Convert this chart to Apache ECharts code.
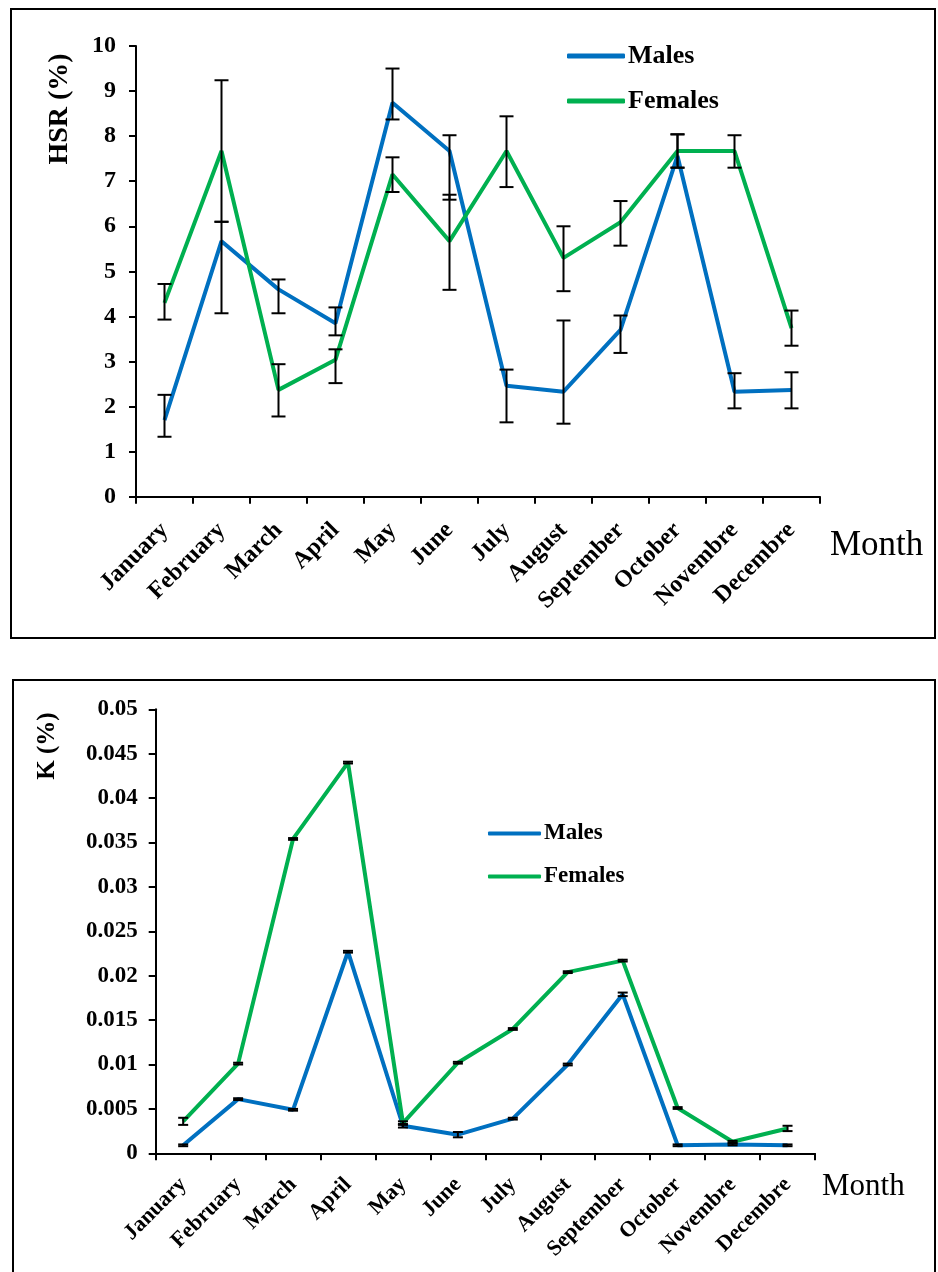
<!DOCTYPE html>
<html>
<head>
<meta charset="utf-8">
<title>HSR and K by month</title>
<script src="https://cdn.jsdelivr.net/npm/echarts/dist/echarts.min.js"></script>
<style>
  html, body { margin: 0; padding: 0; background: #ffffff; }
  #chart { width: 938px; height: 1272px; }
</style>
</head>
<body>
<div id="chart"></div>
<script>
// Months on the x axis of both panels
const months = ['January', 'February', 'March', 'April', 'May', 'June', 'July',
  'August', 'September', 'October', 'Novembre', 'Decembre'];

// HSR (%) — monthly means with lower / upper error-bar ends
const hsrMales       = [1.70, 5.67, 4.60, 3.85, 8.74, 7.67, 2.46, 2.33, 3.70, 7.56, 2.33, 2.37];
const hsrMalesLow    = [1.33, 4.07, 4.07, 3.58, 8.37, 6.59, 1.65, 1.62, 3.19, 7.30, 1.96, 1.96];
const hsrMalesHigh   = [2.26, 6.10, 4.82, 4.20, 9.50, 8.02, 2.82, 3.91, 4.02, 8.04, 2.74, 2.76];
const hsrFemales     = [4.30, 7.67, 2.37, 3.04, 7.15, 5.67, 7.67, 5.30, 6.09, 7.67, 7.67, 3.74];
const hsrFemalesLow  = [3.93, 6.10, 1.78, 2.52, 6.76, 4.59, 6.87, 4.56, 5.57, 7.30, 7.30, 3.35];
const hsrFemalesHigh = [4.72, 9.24, 2.94, 3.27, 7.53, 6.70, 8.44, 6.00, 6.56, 8.04, 8.02, 4.13];

// K (%) — monthly means and standard errors
const kMales      = [0.0009, 0.0061, 0.0049, 0.0227, 0.0031, 0.0021, 0.0039, 0.0100, 0.0179, 0.0009, 0.0010, 0.0009];
const kMalesErr   = [0.0001, 0.0001, 0.0001, 0.0001, 0.0002, 0.0003, 0.0001, 0.0001, 0.0002, 0.0001, 0.0001, 0.0001];
const kFemales    = [0.0036, 0.0101, 0.0354, 0.0440, 0.0034, 0.0102, 0.0140, 0.0204, 0.0217, 0.0051, 0.0013, 0.0028];
const kFemalesErr = [0.0004, 0.0001, 0.0001, 0.0001, 0.0002, 0.0001, 0.0001, 0.0001, 0.0001, 0.0001, 0.0001, 0.0003];

const BLUE = '#0070C0';
const GREEN = '#00B050';
const SERIF = '"Liberation Serif", "Times New Roman", serif';

function errorItems(low, high) {
  return months.map((m, i) => [i, low[i], high[i]]);
}

function errorRenderer(capHalf) {
  return function (params, api) {
    const x = api.value(0);
    const lo = api.coord([x, api.value(1)]);
    const hi = api.coord([x, api.value(2)]);
    const style = { stroke: '#000000', lineWidth: 2, fill: null };
    return {
      type: 'group',
      children: [
        { type: 'line', shape: { x1: lo[0], y1: lo[1], x2: hi[0], y2: hi[1] }, style: style },
        { type: 'line', shape: { x1: hi[0] - capHalf, y1: hi[1], x2: hi[0] + capHalf, y2: hi[1] }, style: style },
        { type: 'line', shape: { x1: lo[0] - capHalf, y1: lo[1], x2: lo[0] + capHalf, y2: lo[1] }, style: style }
      ]
    };
  };
}

function xAxisFor(gridIndex, fontSize, margin) {
  return {
    type: 'category', gridIndex: gridIndex, data: months, boundaryGap: true,
    axisLine: { lineStyle: { color: '#000', width: 2 } },
    axisTick: { show: true, length: 7, lineStyle: { color: '#000', width: 2 }, alignWithLabel: false },
    axisLabel: { rotate: 45, margin: margin, color: '#000', fontFamily: SERIF, fontWeight: 'bold', fontSize: fontSize, interval: 0 },
    splitLine: { show: false }
  };
}

function yAxisFor(gridIndex, max, interval, fontSize, margin) {
  return {
    type: 'value', gridIndex: gridIndex, min: 0, max: max, interval: interval,
    axisLine: { show: true, lineStyle: { color: '#000', width: 2 } },
    axisTick: { show: true, length: 7, lineStyle: { color: '#000', width: 2 } },
    axisLabel: { color: '#000', fontFamily: SERIF, fontWeight: 'bold', fontSize: fontSize, margin: margin },
    splitLine: { show: false }
  };
}

function lineSeries(name, data, color, axisIndex) {
  return {
    name: name, type: 'line', data: data, xAxisIndex: axisIndex, yAxisIndex: axisIndex,
    symbol: 'none', showSymbol: false, smooth: false, z: 3,
    lineStyle: { color: color, width: 4 }, itemStyle: { color: color }
  };
}

const chart = echarts.init(document.getElementById('chart'), null, { renderer: 'canvas' });

chart.setOption({
  animation: false,
  backgroundColor: '#ffffff',
  grid: [
    { left: 136, top: 46, width: 684, height: 450.7, containLabel: false },
    { left: 155.7, top: 709.3, width: 659.3, height: 444, containLabel: false }
  ],
  xAxis: [xAxisFor(0, 24, 30), xAxisFor(1, 22, 28)],
  yAxis: [yAxisFor(0, 10, 1, 24, 20), yAxisFor(1, 0.05, 0.005, 23, 18)],
  legend: [
    {
      orient: 'vertical', left: 567, top: 43, padding: 0, itemGap: 19, itemWidth: 58, itemHeight: 5,
      icon: 'roundRect', data: ['Males', 'Females'],
      textStyle: { color: '#000', fontFamily: SERIF, fontWeight: 'bold', fontSize: 26, padding: [0, 0, 0, -2] }
    },
    {
      orient: 'vertical', left: 488, top: 822, padding: 0, itemGap: 20, itemWidth: 53, itemHeight: 4,
      icon: 'roundRect', data: ['Males ', 'Females '],
      textStyle: { color: '#000', fontFamily: SERIF, fontWeight: 'bold', fontSize: 23, padding: [0, 0, 0, -2] }
    }
  ],
  graphic: [
    { type: 'rect', shape: { x: 11, y: 9, width: 924, height: 629 }, style: { fill: null, stroke: '#000', lineWidth: 2 } },
    { type: 'rect', shape: { x: 13, y: 680, width: 922, height: 620 }, style: { fill: null, stroke: '#000', lineWidth: 2 } },
    { type: 'text', x: 60, y: 109, rotation: Math.PI / 2,
      style: { text: 'HSR (%)', fill: '#000', font: 'bold 28px ' + SERIF, textAlign: 'center', textVerticalAlign: 'middle' } },
    { type: 'text', x: 48, y: 746, rotation: Math.PI / 2,
      style: { text: 'K (%)', fill: '#000', font: 'bold 25px ' + SERIF, textAlign: 'center', textVerticalAlign: 'middle' } },
    { type: 'text', x: 830, y: 546,
      style: { text: 'Month', fill: '#000', font: '35px ' + SERIF, textAlign: 'left', textVerticalAlign: 'middle' } },
    { type: 'text', x: 822, y: 1187,
      style: { text: 'Month', fill: '#000', font: '31px ' + SERIF, textAlign: 'left', textVerticalAlign: 'middle' } }
  ],
  series: [
    lineSeries('Males', hsrMales, BLUE, 0),
    lineSeries('Females', hsrFemales, GREEN, 0),
    {
      type: 'custom', xAxisIndex: 0, yAxisIndex: 0, z: 4, silent: true,
      renderItem: errorRenderer(7), encode: { x: 0, y: [1, 2] },
      data: errorItems(hsrMalesLow, hsrMalesHigh)
    },
    {
      type: 'custom', xAxisIndex: 0, yAxisIndex: 0, z: 4, silent: true,
      renderItem: errorRenderer(7), encode: { x: 0, y: [1, 2] },
      data: errorItems(hsrFemalesLow, hsrFemalesHigh)
    },
    lineSeries('Males ', kMales, BLUE, 1),
    lineSeries('Females ', kFemales, GREEN, 1),
    {
      type: 'custom', xAxisIndex: 1, yAxisIndex: 1, z: 4, silent: true,
      renderItem: errorRenderer(5), encode: { x: 0, y: [1, 2] },
      data: months.map((m, i) => [i, kMales[i] - kMalesErr[i], kMales[i] + kMalesErr[i]])
    },
    {
      type: 'custom', xAxisIndex: 1, yAxisIndex: 1, z: 4, silent: true,
      renderItem: errorRenderer(5), encode: { x: 0, y: [1, 2] },
      data: months.map((m, i) => [i, kFemales[i] - kFemalesErr[i], kFemales[i] + kFemalesErr[i]])
    }
  ]
});
</script>
</body>
</html>
